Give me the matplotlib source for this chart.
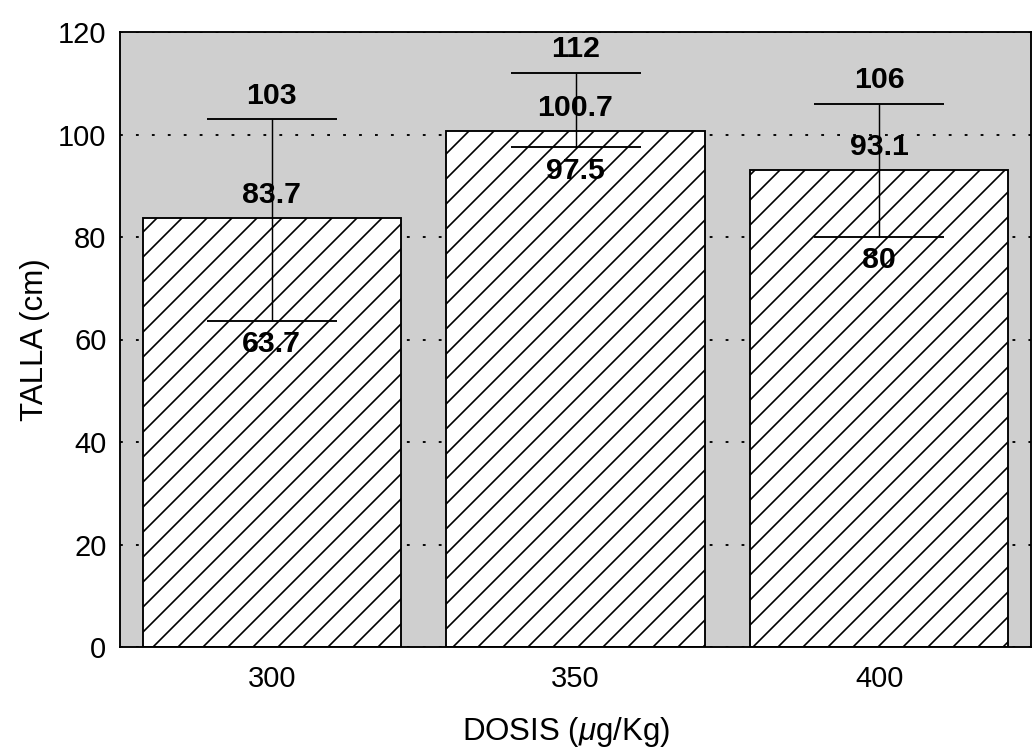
import matplotlib
matplotlib.use("Agg")
import matplotlib.pyplot as plt
import numpy as np

# ---- data ----
dosis = ["300", "350", "400"]
talla_mean = [83.7, 100.7, 93.1]
talla_upper = [103, 112, 106]
talla_lower = [63.7, 97.5, 80]
mean_labels = ["83.7", "100.7", "93.1"]
upper_labels = ["103", "112", "106"]
lower_labels = ["63.7", "97.5", "80"]
yticks = [0, 20, 40, 60, 80, 100, 120]

plt.rcParams['font.family'] = ['Liberation Sans', 'DejaVu Sans']
plt.rcParams['mathtext.fontset'] = 'custom'
plt.rcParams['mathtext.it'] = 'Liberation Sans:italic'
plt.rcParams['mathtext.rm'] = 'Liberation Sans'
plt.rcParams['hatch.linewidth'] = 1.6

DPI = 75
fig = plt.figure(figsize=(1035 / DPI, 754 / DPI), dpi=DPI)
fig.patch.set_facecolor('white')
ax = fig.add_axes([120 / 1035, 1 - 647 / 754, 911 / 1035, 615 / 754])
ax.set_facecolor('#cfcfcf')

x = np.arange(len(dosis))
ax.bar(x, talla_mean, width=0.85, color='white', edgecolor='black',
       linewidth=1.8, hatch='/', zorder=2)

yerr = [np.array(talla_mean) - np.array(talla_lower),
        np.array(talla_upper) - np.array(talla_mean)]
ax.errorbar(x, talla_mean, yerr=yerr, fmt='none', ecolor='black',
            elinewidth=1.4, capsize=62, capthick=1.8, zorder=3)

for i in range(len(x)):
    ax.annotate(upper_labels[i], (x[i], talla_upper[i]), xytext=(0, 15),
                textcoords='offset points', ha='center', va='baseline',
                fontsize=29, fontweight='bold', zorder=4)
    ax.annotate(mean_labels[i], (x[i], talla_mean[i]), xytext=(0, 14),
                textcoords='offset points', ha='center', va='baseline',
                fontsize=29, fontweight='bold', zorder=4)
    ax.annotate(lower_labels[i], (x[i], talla_lower[i]), xytext=(0, -9),
                textcoords='offset points', ha='center', va='top',
                fontsize=29, fontweight='bold', zorder=4)

ax.set_xlim(-0.5, 2.5)
ax.set_ylim(0, 120)
ax.set_yticks(yticks)
ax.set_xticks(x)
ax.set_xticklabels(dosis)
ax.tick_params(axis='both', length=0, labelsize=28)
ax.tick_params(axis='y', pad=13)
ax.tick_params(axis='x', pad=17)

ax.yaxis.grid(True, color='black', linestyle=(0, (1.5, 7)), linewidth=1.8, zorder=1)
ax.set_axisbelow(True)
for s in ax.spines.values():
    s.set_linewidth(1.8)
    s.set_color('black')

ax.set_ylabel("TALLA (cm)", fontsize=30)
ax.yaxis.set_label_coords(-0.077, 0.5)
ax.set_xlabel(r"DOSIS ($\mu$g/Kg)", fontsize=30, va='top')
ax.xaxis.set_label_coords(0.49, -0.11)

fig.savefig("out.png", dpi=DPI)
